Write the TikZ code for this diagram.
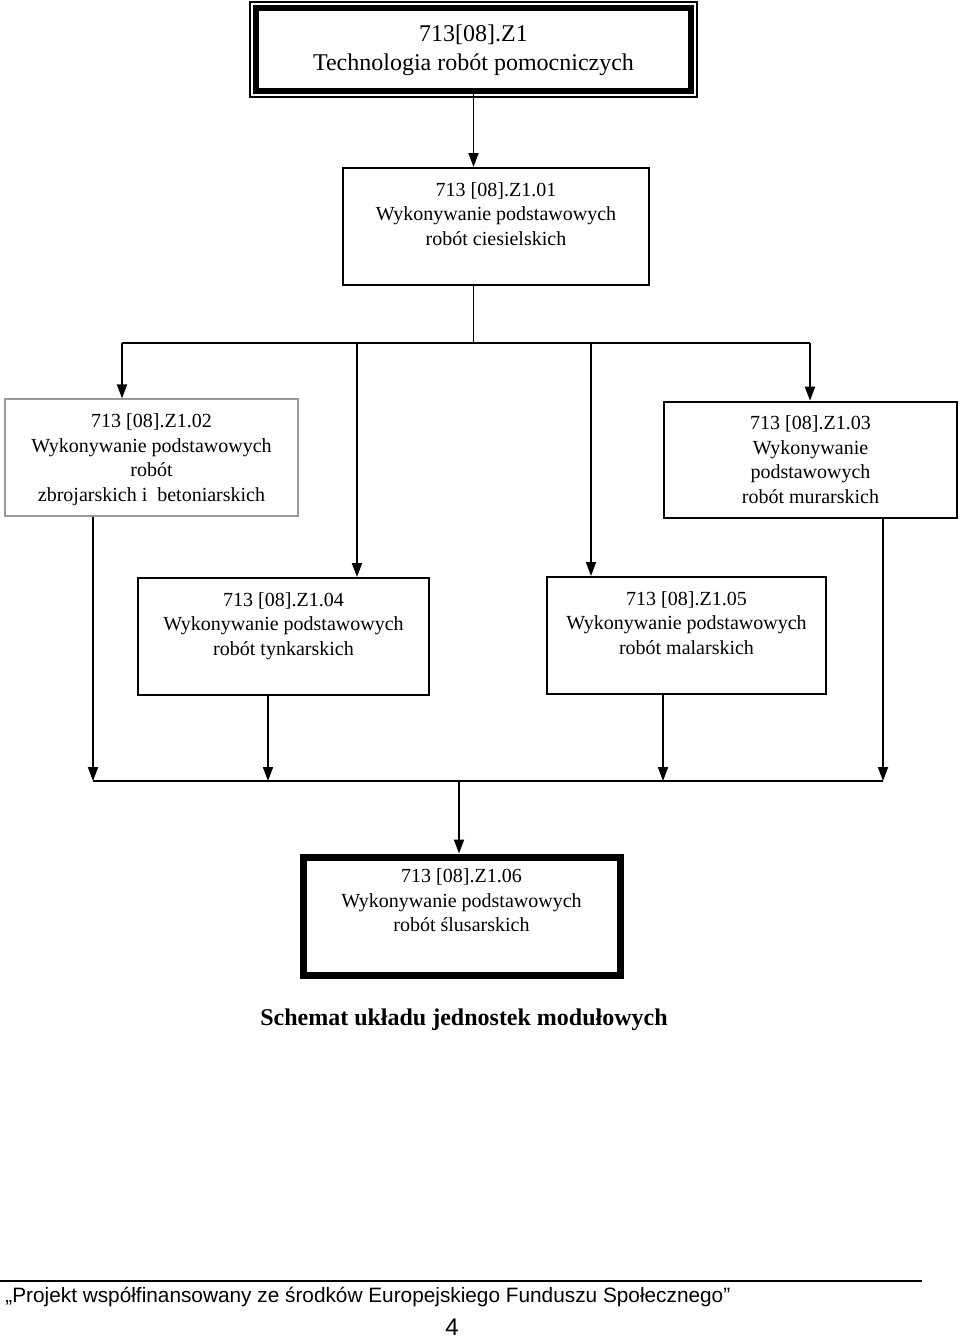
\documentclass[tikz,border=0pt]{standalone}
\usepackage{fontspec}
\setmainfont{Liberation Serif}
\newfontfamily\footfont{Liberation Sans}
\usetikzlibrary{arrows.meta,fit}

\begin{document}
\begin{tikzpicture}[x=0.5pt,y=-0.5pt,
  box/.style={draw,line width=1pt,inner sep=0pt},
  lbl/.style={anchor=north,inner sep=0pt,align=center,yshift=-7.5pt,
    font=\fontsize{10}{12.25}\selectfont},
  conn/.style={line width=0.9pt},
  arr/.style={conn,-{Triangle[length=7pt,width=5pt]}}]
  \useasboundingbox (0,0) rectangle (960,1339);

  % modules
  \node[draw,line width=0.7pt,inner sep=0pt,fit={(250,2)(697,97)}] (z1o) {};
  \node[box,line width=3pt,fit={(256,8)(691,91)}] (z1) {};
  \node[inner sep=0pt,align=center,yshift=-0.5pt,
    font=\fontsize{12}{14.5}\selectfont] (t1) at (z1)
    {713[08].Z1\\Technologia robót pomocniczych};

  \node[box,fit={(343,168)(649,285)}] (z01) {};
  \node[box,draw=black!40,line width=0.6pt,fit={(5,399)(298,516)}] (z02) {};
  \node[box,line width=1.3pt,fit={(664,402)(957,518)}] (z03) {};
  \node[box,fit={(138,578)(429,695)}] (z04) {};
  \node[box,fit={(547,577)(826,694)}] (z05) {};
  \node[box,line width=3.5pt,fit={(303,857)(620,975)}] (z06) {};

  \node[lbl] (t01) at (z01.north) {713 [08].Z1.01\\Wykonywanie podstawowych\\robót ciesielskich};
  \node[lbl] (t02) at (z02.north) {713 [08].Z1.02\\Wykonywanie podstawowych\\robót\\zbrojarskich i\ \ betoniarskich};
  \node[lbl] (t03) at (z03.north) {713 [08].Z1.03\\Wykonywanie\\podstawowych\\robót murarskich};
  \node[lbl] (t04) at (z04.north) {713 [08].Z1.04\\Wykonywanie podstawowych\\robót tynkarskich};
  \node[lbl] (t05) at (z05.north) {713 [08].Z1.05\\Wykonywanie podstawowych\\robót malarskich};
  \node[lbl] (t06) at (z06.north) {713 [08].Z1.06\\Wykonywanie podstawowych\\robót ślusarskich};

  % connectors
  \coordinate (s1l) at (122,343);
  \coordinate (s1a) at (357,343);
  \coordinate (s1b) at (591,343);
  \coordinate (s1r) at (810,343);
  \coordinate (s2l) at (93,781);
  \coordinate (s2a) at (268,781);
  \coordinate (s2c) at (459,781);
  \coordinate (s2b) at (663,781);
  \coordinate (s2r) at (883,781);

  \draw[arr] (z1.south) -- (z1.south |- z01.north);
  \draw[conn] (z01.south -| z1.south) -- (z1.south |- s1l);
  \draw[conn] (s1l) -- (s1r);
  \foreach \s/\z in {s1l/z02,s1a/z04,s1b/z05,s1r/z03}
    \draw[arr] (\s) -- (\s |- \z.north);

  \foreach \s/\z in {s2l/z02,s2a/z04,s2b/z05,s2r/z03}
    \draw[arr] (\z.south -| \s) -- (\s);
  \draw[conn] (s2l) -- (s2r);
  \draw[arr] (s2c) -- (s2c |- z06.north);

  % caption and footer
  \node[font=\bfseries\fontsize{12}{14}\selectfont] (cap) at (464,1020)
    {Schemat układu jednostek modułowych};
  \draw[line width=1pt] (0,1281) -- (922,1281);
  \node[anchor=west,inner sep=0pt,font=\footfont\fontsize{10.4}{12}\selectfont] (foot) at (5,1297)
    {„Projekt współfinansowany ze środków Europejskiego Funduszu Społecznego”};
  \node[font=\footfont\fontsize{12}{14}\selectfont] (pg) at (452,1327) {4};
\end{tikzpicture}
\end{document}
